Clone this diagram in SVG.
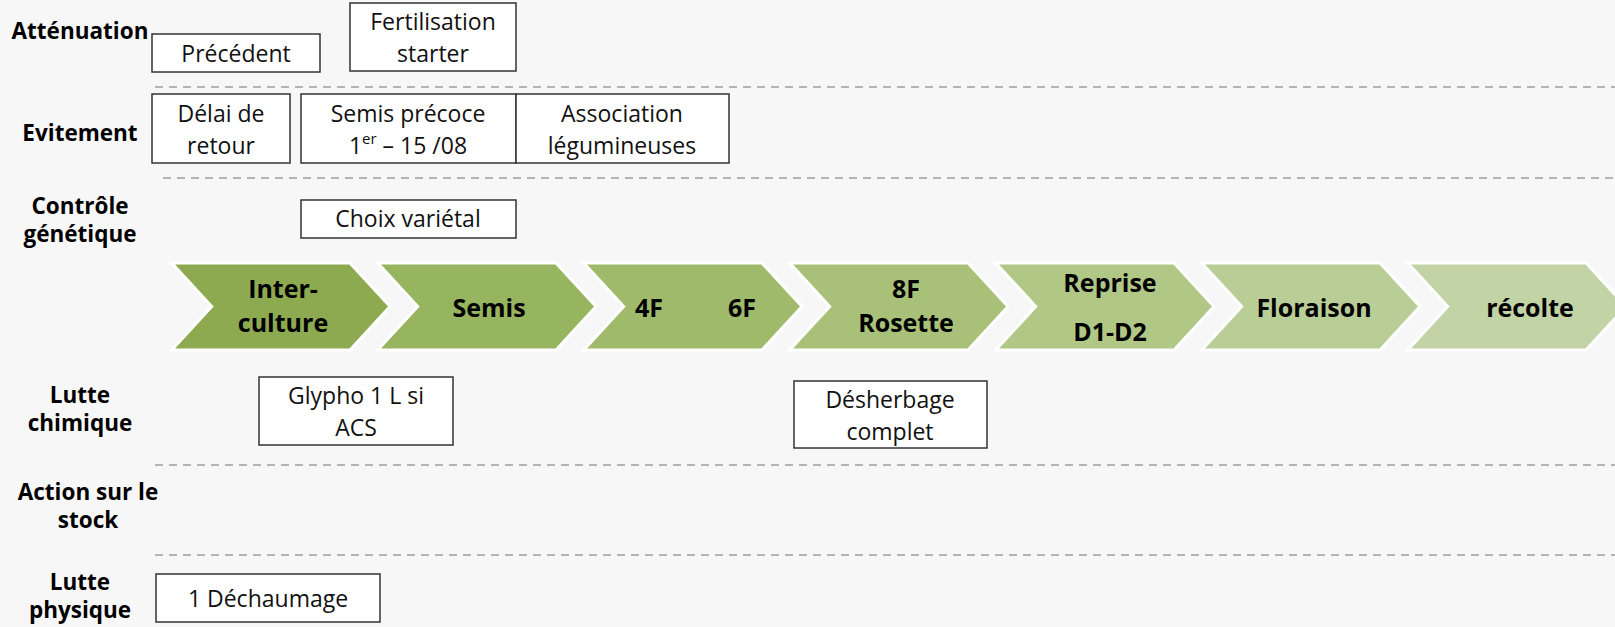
<svg xmlns="http://www.w3.org/2000/svg" width="1615" height="627" viewBox="0 0 1615 627">
<defs>
<style>
.bg{fill:#f7f7f7}
.lbl{font-family:"Open Sans","Liberation Sans",sans-serif;font-weight:bold;font-size:22.5px;fill:#000;text-anchor:middle;dominant-baseline:central}
.box rect{fill:#fff;stroke:#333;stroke-width:1.5}
.box text{font-family:"Open Sans","Liberation Sans",sans-serif;font-size:23px;fill:#111;text-anchor:middle;dominant-baseline:central}
.chev polygon{stroke:#fff;stroke-width:3;stroke-linejoin:miter}
.chev text{font-family:"Open Sans","Liberation Sans",sans-serif;font-weight:bold;font-size:25px;fill:#000;text-anchor:middle;dominant-baseline:central}
.sep line{stroke:#b4b4b4;stroke-width:2;stroke-dasharray:8 6}
</style>
</defs>
<rect class="bg" x="0" y="0" width="1615" height="627"/>

<g id="separators" class="sep">
<line x1="155" y1="87" x2="1615" y2="87"/>
<line x1="163" y1="178" x2="1615" y2="178"/>
<line x1="155" y1="465" x2="1615" y2="465"/>
<line x1="155" y1="555" x2="1615" y2="555"/>
</g>

<g id="row-labels">
<text class="lbl" x="80" y="30">Atténuation</text>
<text class="lbl" x="80" y="132">Evitement</text>
<text class="lbl" x="80" y="205">Contrôle</text>
<text class="lbl" x="80" y="233">génétique</text>
<text class="lbl" x="80" y="394">Lutte</text>
<text class="lbl" x="80" y="422">chimique</text>
<text class="lbl" x="88" y="491">Action sur le</text>
<text class="lbl" x="88" y="519">stock</text>
<text class="lbl" x="80" y="581">Lutte</text>
<text class="lbl" x="80" y="609">physique</text>
</g>

<g id="stages" class="chev">
<g id="stage-interculture">
<polygon fill="#8eaa50" points="171.7,263 350,263 390,306.5 350,350 171.7,350 211.7,306.5"/>
<text x="283" y="288">Inter-</text>
<text x="283" y="322">culture</text>
</g>
<g id="stage-semis">
<polygon fill="#97b45e" points="377.7,263 556,263 596,306.5 556,350 377.7,350 417.7,306.5"/>
<text x="489" y="307">Semis</text>
</g>
<g id="stage-4f6f">
<polygon fill="#9fba6a" points="583.7,263 762,263 802,306.5 762,350 583.7,350 623.7,306.5"/>
<text x="649" y="307">4F</text>
<text x="742" y="307">6F</text>
</g>
<g id="stage-8f">
<polygon fill="#a8c077" points="789.7,263 968,263 1008,306.5 968,350 789.7,350 829.7,306.5"/>
<text x="906" y="288">8F</text>
<text x="906" y="322">Rosette</text>
</g>
<g id="stage-reprise">
<polygon fill="#b1c786" points="995.7,263 1174,263 1214,306.5 1174,350 995.7,350 1035.7,306.5"/>
<text x="1110" y="282">Reprise</text>
<text x="1110" y="331">D1-D2</text>
</g>
<g id="stage-floraison">
<polygon fill="#b9cd96" points="1201.7,263 1380,263 1420,306.5 1380,350 1201.7,350 1241.7,306.5"/>
<text x="1314" y="307">Floraison</text>
</g>
<g id="stage-recolte">
<polygon fill="#c2d3a6" points="1407.7,263 1586,263 1626,306.5 1586,350 1407.7,350 1447.7,306.5"/>
<text x="1530" y="307">récolte</text>
</g>
</g>

<g id="box-precedent" class="box">
<rect x="152" y="34" width="168" height="38"/>
<text x="236" y="53">Précédent</text>
</g>
<g id="box-fertilisation" class="box">
<rect x="350" y="3" width="166" height="68"/>
<text x="433" y="21">Fertilisation</text>
<text x="433" y="53">starter</text>
</g>
<g id="box-delai" class="box">
<rect x="152" y="94" width="138" height="69"/>
<text x="221" y="113">Délai de</text>
<text x="221" y="145">retour</text>
</g>
<g id="box-semis-precoce" class="box">
<rect x="301" y="94" width="215" height="69"/>
<text x="408" y="113">Semis précoce</text>
<text x="408" y="145">1<tspan font-size="15" dy="-7">er</tspan><tspan dy="7"> – 15 /08</tspan></text>
</g>
<g id="box-association" class="box">
<rect x="516" y="94" width="213" height="69"/>
<text x="622" y="113">Association</text>
<text x="622" y="145">légumineuses</text>
</g>
<g id="box-choix" class="box">
<rect x="301" y="200" width="215" height="38"/>
<text x="408" y="218">Choix variétal</text>
</g>
<g id="box-glypho" class="box">
<rect x="259" y="377" width="194" height="68"/>
<text x="356" y="395">Glypho 1 L si</text>
<text x="356" y="427">ACS</text>
</g>
<g id="box-desherbage" class="box">
<rect x="794" y="381" width="193" height="67"/>
<text x="890" y="399">Désherbage</text>
<text x="890" y="431">complet</text>
</g>
<g id="box-dechaumage" class="box">
<rect x="156" y="574" width="224" height="48"/>
<text x="268" y="598">1 Déchaumage</text>
</g>
</svg>
